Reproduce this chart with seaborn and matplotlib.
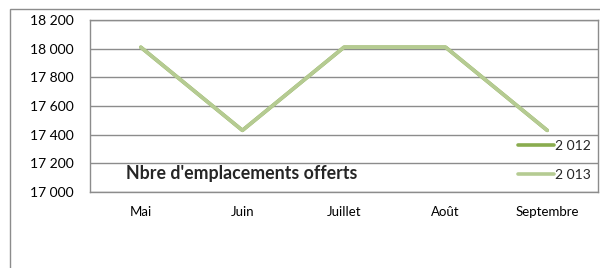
import matplotlib
matplotlib.use("Agg")
import matplotlib.pyplot as plt
import matplotlib.patches as mpatches
from matplotlib.ticker import FuncFormatter
import seaborn as sns
import pandas as pd

# Chart data
months = ["Mai", "Juin", "Juillet", "Août", "Septembre"]
places_2012 = [18010, 17430, 18010, 18010, 17430]
places_2013 = [18010, 17430, 18010, 18010, 17430]
series_names = ["2 012", "2 013"]

df = pd.DataFrame({
    "mois": months * 2,
    "places": places_2012 + places_2013,
    "annee": [series_names[0]] * len(months) + [series_names[1]] * len(months),
})

sns.set_style("white")
plt.rcParams["font.family"] = ["Lato", "DejaVu Sans"]

W, H = 600, 268
fig = plt.figure(figsize=(W / 100, H / 100), dpi=100)
ax = fig.add_axes([90 / W, 1 - 192 / H, 508 / W, 172 / H])

palette = {series_names[0]: "#8aac4f", series_names[1]: "#b5cb92"}
sns.lineplot(data=df, x="mois", y="places", hue="annee", palette=palette,
             linewidth=2.6, ax=ax, sort=False)

ax.set_ylim(17000, 18200)
ax.set_yticks(range(17000, 18201, 200))
ax.yaxis.set_major_formatter(FuncFormatter(lambda v, p: f"{int(v):,}".replace(",", " ")))
ax.set_xlim(-0.5, len(months) - 0.5)
ax.grid(axis="y", color="#8c8c8c", linewidth=1)
ax.set_axisbelow(True)
for s in ax.spines.values():
    s.set_color("#8c8c8c")
    s.set_linewidth(1)
ax.tick_params(axis="y", length=0, pad=12, labelsize=10, colors="black")
ax.tick_params(axis="x", length=0, pad=10, labelsize=9.5, colors="black")
ax.set_xlabel("")
ax.set_ylabel("")

leg = ax.legend(loc="center left", bbox_to_anchor=(511 / W, 1 - 160.5 / H),
                bbox_transform=fig.transFigure, frameon=False, fontsize=10,
                handlelength=2.6, handletextpad=0.1, labelspacing=1.25,
                borderpad=0)
for line in leg.get_lines():
    line.set_linewidth(2.6)

fig.text(126 / W, 1 - 173 / H, "Nbre d'emplacements offerts", fontsize=12.8,
         fontweight="bold", ha="left", va="center")

# outer chart border (runs past the image edges)
fig.patches.append(mpatches.Rectangle((10 / W, -0.1), 1.2, 1 - 9 / H + 0.1,
                                      transform=fig.transFigure, fill=False,
                                      edgecolor="#8c8c8c", linewidth=1))

fig.savefig("out.png", dpi=100)
